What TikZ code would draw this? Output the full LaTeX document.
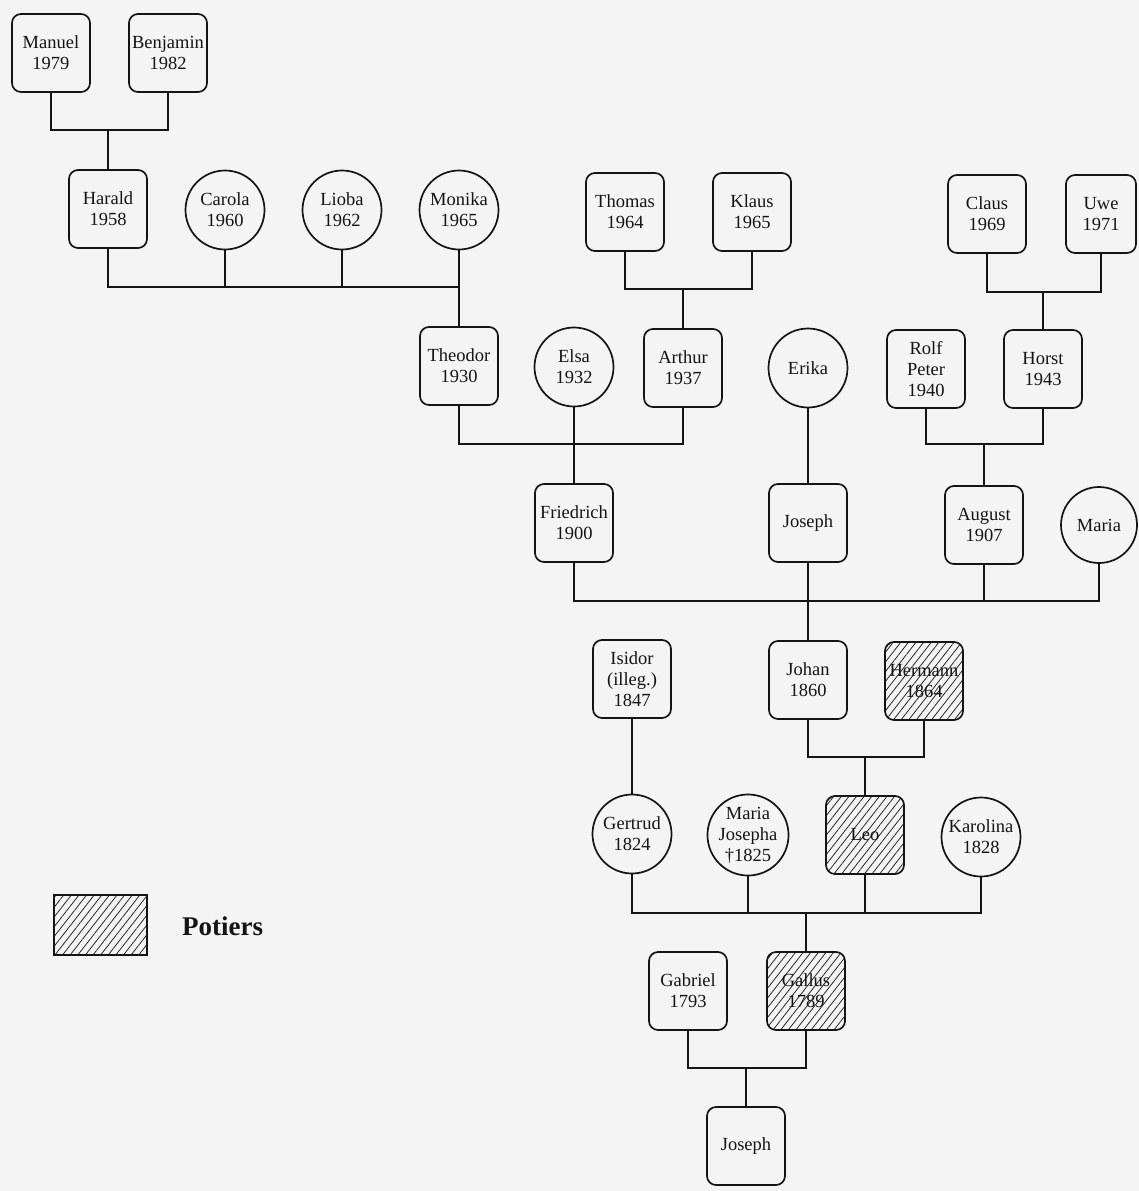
\documentclass[tikz,border=0pt]{standalone}
\usepackage{fontspec}
\setmainfont{Liberation Serif}
\usetikzlibrary{patterns.meta}
\definecolor{paper}{RGB}{244,244,244}
\definecolor{ink}{RGB}{20,20,20}
\tikzset{
  person/.style={font=\fontsize{18.5}{21}\selectfont, align=center, inner sep=0pt, text=ink},
  male/.style={person, draw=ink, line width=1.7pt, rounded corners=9pt, minimum width=78pt, minimum height=78pt},
  female/.style={person, draw=ink, line width=1.7pt, circle, minimum size=79pt},
  hatch/.style={pattern={Lines[angle=52,distance=6pt,line width=0.8pt]}, pattern color=black!85},
  potter/.style={male, hatch},
  link/.style={draw=ink, line width=1.6pt},
}
\begin{document}
\begin{tikzpicture}[x=1pt,y=-1pt]
\fill[paper] (0,0) rectangle (1139,1191);
\useasboundingbox (0,0) rectangle (1139,1191);

% generation 1
\node[male] (manuel) at (51,53) {Manuel\\1979};
\node[male] (benjamin) at (168,53) {Benjamin\\1982};

% generation 2
\node[male] (harald) at (108,209) {Harald\\1958};
\node[female] (carola) at (225,210) {Carola\\1960};
\node[female] (lioba) at (342,210) {Lioba\\1962};
\node[female] (monika) at (459,210) {Monika\\1965};
\node[male] (thomas) at (625,212) {Thomas\\1964};
\node[male] (klaus) at (752,212) {Klaus\\1965};
\node[male] (claus) at (987,214) {Claus\\1969};
\node[male, minimum width=70pt] (uwe) at (1101,214) {Uwe\\1971};

% generation 3
\node[male] (theodor) at (459,366) {Theodor\\1930};
\node[female] (elsa) at (574,367) {Elsa\\1932};
\node[male] (arthur) at (683,368) {Arthur\\1937};
\node[female] (erika) at (808,368) {Erika};
\node[male] (rolf) at (926,369) {Rolf\\Peter\\1940};
\node[male] (horst) at (1043,369) {Horst\\1943};

% generation 4
\node[male] (friedrich) at (574,523) {Friedrich\\1900};
\node[male] (josepha) at (808,523) {Joseph};
\node[male] (august) at (984,525) {August\\1907};
\node[female, minimum size=76pt] (maria) at (1099,525) {Maria};

% generation 5
\node[male] (isidor) at (632,679) {Isidor\\(illeg.)\\1847};
\node[male] (johan) at (808,680) {Johan\\1860};
\node[potter] (hermann) at (924,681) {Hermann\\1864};

% generation 6
\node[female] (gertrud) at (632,834) {Gertrud\\1824};
\node[female] (mariajosepha) at (748,835) {Maria\\Josepha\\†1825};
\node[potter] (leo) at (865,835) {Leo};
\node[female] (karolina) at (981,837) {Karolina\\1828};

% generation 7
\node[male] (gabriel) at (688,991) {Gabriel\\1793};
\node[potter] (gallus) at (806,991) {Gallus\\1789};

% generation 8
\node[male] (josephb) at (746,1146) {Joseph};

% legend
\node[draw=ink, line width=1.6pt, minimum width=93pt, minimum height=60pt, inner sep=0pt, hatch] (legendbox) at (100.5,925) {};
\node[anchor=base west, inner sep=0pt, text=ink, font=\fontsize{27}{30}\selectfont\bfseries] (legendtext) at (182,935) {Potiers};

% connectors
\coordinate (j1) at (108,130);
\draw[link] (manuel.south) |- (j1) -| (benjamin.south);
\draw[link] (j1) -- (harald.north);

\coordinate (j2) at (459,287);
\draw[link] (harald.south) |- (j2);
\draw[link] (carola.south) -- (carola.south |- j2);
\draw[link] (lioba.south) -- (lioba.south |- j2);
\draw[link] (monika.south) -- (theodor.north);

\coordinate (j3) at (683,289);
\draw[link] (thomas.south) |- (j3) -| (klaus.south);
\draw[link] (j3) -- (arthur.north);

\coordinate (j4) at (1043,292);
\draw[link] (claus.south) |- (j4) -| (uwe.south);
\draw[link] (j4) -- (horst.north);

\coordinate (j5) at (574,444);
\draw[link] (theodor.south) |- (j5) -| (arthur.south);
\draw[link] (elsa.south) -- (friedrich.north);
\draw[link] (erika.south) -- (josepha.north);

\coordinate (j6) at (984,444);
\draw[link] (rolf.south) |- (j6) -| (horst.south);
\draw[link] (j6) -- (august.north);

\coordinate (j7) at (808,601);
\draw[link] (friedrich.south) |- (j7) -| (maria.south);
\draw[link] (august.south) -- (august.south |- j7);
\draw[link] (josepha.south) -- (johan.north);

\draw[link] (isidor.south) -- (gertrud.north);

\coordinate (j8) at (865,757);
\draw[link] (johan.south) |- (j8) -| (hermann.south);
\draw[link] (j8) -- (leo.north);

\coordinate (j9) at (806,913);
\draw[link] (gertrud.south) |- (j9) -| (karolina.south);
\draw[link] (mariajosepha.south) -- (mariajosepha.south |- j9);
\draw[link] (leo.south) -- (leo.south |- j9);
\draw[link] (j9) -- (gallus.north);

\coordinate (j10) at (746,1068);
\draw[link] (gabriel.south) |- (j10) -| (gallus.south);
\draw[link] (j10) -- (josephb.north);
\end{tikzpicture}
\end{document}
